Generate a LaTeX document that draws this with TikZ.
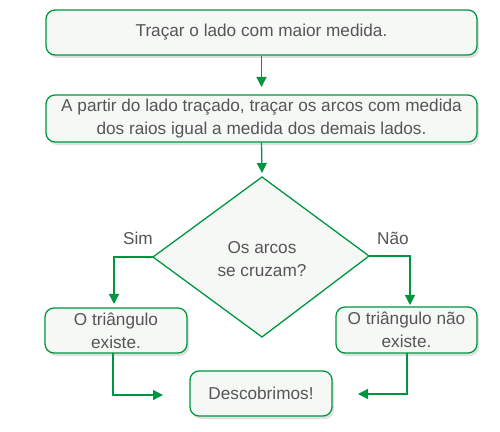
\documentclass[tikz,border=0pt]{standalone}
\usepackage{fontspec}
\setmainfont{Liberation Sans}
\usetikzlibrary{shadows,arrows.meta}
\definecolor{fgreen}{RGB}{0,150,64}
\definecolor{bfill}{RGB}{246,248,246}
\definecolor{tgray}{RGB}{85,85,85}
\tikzset{
  flowbox/.style={draw=fgreen, line width=1.3pt, fill=bfill, rounded corners=9pt,
    drop shadow={shadow xshift=2pt, shadow yshift=-3pt, opacity=0.12, fill=black},
    text=tgray, align=center, inner sep=0pt, font=\fontsize{17.2}{23}\selectfont},
  flowarrow/.style={draw=fgreen, line width=1.3pt, -{Triangle[length=10pt,width=10pt]}},
  lbl/.style={text=tgray, font=\fontsize{17.2}{20}\selectfont, inner sep=0pt}
}
\begin{document}
\begin{tikzpicture}[x=1pt,y=1pt]
\useasboundingbox (0,0) rectangle (500,431);
% boxes (pixel coords: y = 431 - py)
\node[flowbox, minimum width=431pt, minimum height=45pt] (b1) at (261.5,398.5) {Traçar o lado com maior medida.};
\node[flowbox, minimum width=431pt, minimum height=47pt] (b2) at (261.5,312.5) {A partir do lado traçado, traçar os arcos com medida\\dos raios igual a medida dos demais lados.};
\filldraw[draw=fgreen, line width=1.3pt, fill=bfill] (262,254) coordinate (dt) -- (369,175) coordinate (dr) -- (262,94) coordinate (db) -- (153,174) coordinate (dl) -- cycle;
\node[text=tgray, align=center, font=\fontsize{17.2}{23}\selectfont, inner sep=0pt] (dq) at (262,172) {Os arcos\\se cruzam?};
\node[flowbox, minimum width=142pt, minimum height=45pt] (l) at (116,100.5) {O triângulo\\existe.};
\node[flowbox, minimum width=141pt, minimum height=46pt] (r) at (406.5,101) {O triângulo não\\existe.};
\node[flowbox, minimum width=142pt, minimum height=45pt] (d) at (261,37.5) {Descobrimos!};
\node[lbl] (sim) at (138,193) {Sim};
\node[lbl] (nao) at (393,193) {Não};
\coordinate (dleft) at (163,36);
\coordinate (dright) at (358,37);
% arrows
\draw[flowarrow] (b1.south) -- (261.5,344);
\draw[flowarrow] (b2.south) -- (262,258);
\draw[flowarrow] (dl) -| (114,127);
\draw[flowarrow] (dr) -| (410,126);
\draw[flowarrow] (113,78) |- (dleft);
\draw[flowarrow] (407,78) |- (dright);
\end{tikzpicture}
\end{document}
